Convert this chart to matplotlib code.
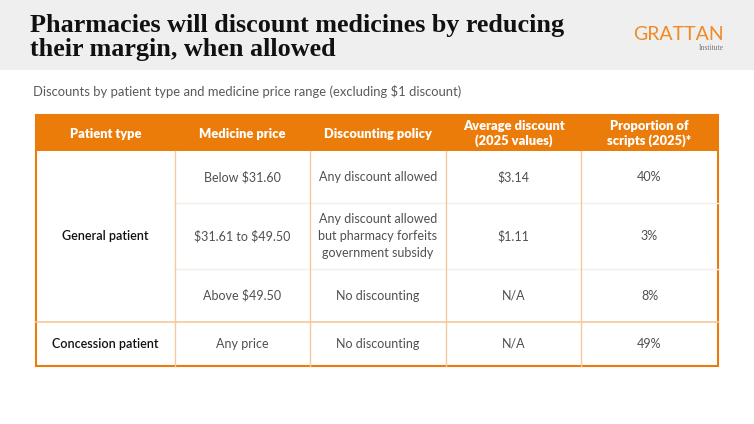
import matplotlib.pyplot as plt
from matplotlib.patches import Rectangle

plt.rcParams['text.parse_math'] = False

title = "Pharmacies will discount medicines by reducing\ntheir margin, when allowed"
subtitle = "Discounts by patient type and medicine price range (excluding $1 discount)"

headers = ["Patient type", "Medicine price", "Discounting policy",
           "Average discount\n(2025 values)", "Proportion of\nscripts (2025)*"]
patient_types = ["General patient", "Concession patient"]
price_ranges = ["Below $31.60", "$31.61 to $49.50", "Above $49.50", "Any price"]
policies = ["Any discount allowed",
            "Any discount allowed\nbut pharmacy forfeits\ngovernment subsidy",
            "No discounting", "No discounting"]
avg_discount = ["$3.14", "$1.11", "N/A", "N/A"]
proportion = ["40%", "3%", "8%", "49%"]

orange = '#EC7C0A'
light_orange = '#F6C89B'
faint = '#F6EEE8'
txt = '#505050'

col_x = [36, 175, 310, 446, 581, 718]
row_y = [115, 151, 203, 269, 322, 366]

fig = plt.figure(figsize=(7.54, 4.24), dpi=100)
ax = fig.add_axes([0, 0, 1, 1])
ax.set_xlim(0, 754)
ax.set_ylim(424, 0)
ax.axis('off')

# header band
ax.add_patch(Rectangle((0, 0), 754, 70, fc='#efefef', ec='none'))
ax.text(30, 37.5, title, fontsize=18.8, family='Liberation Serif', weight='bold',
        va='center', ha='left', color='#111111', linespacing=1.08)
ax.text(724, 35, "GRATTAN", fontsize=14, family='Lato', color='#F08A24',
        ha='right', va='center')
ax.text(724, 48, "Institute", fontsize=5.5, family='Liberation Serif', color='#777777',
        ha='right', va='center')

ax.text(33, 91, subtitle, fontsize=9.4, family='Lato', color='#5a5a5a', va='center')

# table header
ax.add_patch(Rectangle((col_x[0], row_y[0]), col_x[-1] - col_x[0], row_y[1] - row_y[0],
                       fc=orange, ec='none'))
for i, h in enumerate(headers):
    cx = (col_x[i] + col_x[i + 1]) / 2
    ax.text(cx, (row_y[0] + row_y[1]) / 2 + 0.5, h, fontsize=9.3, family='Lato', weight='heavy',
            color='white', ha='center', va='center', linespacing=1.15)

# faint row lines inside general patient block
for y in row_y[2:4]:
    ax.plot([col_x[1], col_x[-1]], [y, y], color=faint, lw=1)
# separator between patient groups
ax.plot([col_x[0], col_x[-1]], [row_y[4], row_y[4]], color=light_orange, lw=1.2)
# vertical lines
for x in col_x[1:-1]:
    ax.plot([x, x], [row_y[1], row_y[-1]], color=light_orange, lw=1)
# outer border
ax.add_patch(Rectangle((col_x[0], row_y[0]), col_x[-1] - col_x[0], row_y[-1] - row_y[0],
                       fc='none', ec=orange, lw=1.5))

# body
ax.text((col_x[0] + col_x[1]) / 2, (row_y[1] + row_y[4]) / 2, patient_types[0],
        fontsize=9, family='Lato', weight='semibold', color='#111111', ha='center', va='center')
ax.text((col_x[0] + col_x[1]) / 2, (row_y[4] + row_y[5]) / 2, patient_types[1],
        fontsize=9, family='Lato', weight='semibold', color='#111111', ha='center', va='center')

row_cols = [price_ranges, policies, avg_discount, proportion]
for r in range(4):
    cy = (row_y[r + 1] + row_y[r + 2]) / 2
    for c, vals in enumerate(row_cols):
        cx = (col_x[c + 1] + col_x[c + 2]) / 2
        ax.text(cx, cy, vals[r], fontsize=9, family='Lato', color=txt,
                ha='center', va='center', linespacing=1.5)

fig.savefig('out.png', dpi=100)
